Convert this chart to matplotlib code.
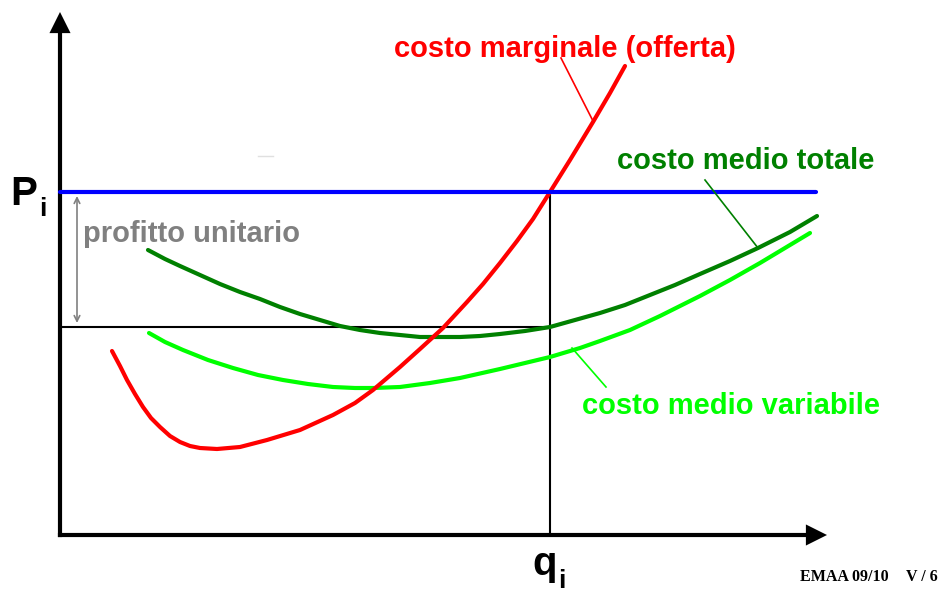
import matplotlib
matplotlib.use('Agg')
import matplotlib.pyplot as plt

# punti (coordinate in pixel, y verso il basso)
cm_x = [112, 120, 127, 135, 143, 151, 160, 170, 180, 190, 200, 217, 240, 267, 300, 333, 355, 373,
        400, 420, 443, 467, 483, 500, 517, 533, 550, 570, 593, 610, 625]
cm_y = [351, 366, 380, 394, 407, 418, 427, 436, 442, 446, 448, 449, 447, 440, 430, 415, 403, 390,
        367, 349, 328, 302, 284, 263, 241, 219, 192, 160, 122, 93, 66]

cmt_x = [148, 165, 180, 200, 220, 240, 260, 280, 300, 320, 340, 360, 380, 400, 420, 440, 460, 480,
         500, 525, 550, 575, 600, 625, 650, 675, 700, 730, 758, 790, 817]
cmt_y = [250, 259, 266, 275, 284, 292, 299, 307, 314, 320, 326, 330, 333, 335, 337, 337, 337, 336,
         334, 331, 327, 320, 313, 305, 295, 285, 274, 261, 248, 232, 216]

cmv_x = [149, 165, 183, 208, 233, 258, 283, 308, 333, 355, 373, 400, 430, 460, 500, 550, 580, 600,
         630, 660, 700, 730, 760, 785, 810]
cmv_y = [333, 342, 350, 360, 368, 375, 380, 384, 387, 388, 388, 387, 383, 378, 369, 357, 348, 341,
         330, 316, 296, 280, 263, 248, 233]

prezzo = 192       # P_i
quantita = 550     # q_i
costo_min = 327    # costo medio totale in q_i
origine = (60, 535)

ROSSO = '#ff0000'
BLU = '#0000ff'
VERDE_SCURO = '#008000'
VERDE = '#00ff00'
GRIGIO = '#808080'

plt.rcParams['font.family'] = ['Liberation Sans', 'DejaVu Sans']

fig = plt.figure(figsize=(9.42, 5.92), dpi=100)
ax = fig.add_axes([0, 0, 1, 1])
ax.set_xlim(0, 942)
ax.set_ylim(592, 0)
ax.axis('off')

# assi con frecce
freccia = dict(arrowstyle='-|>', lw=0, color='black', mutation_scale=38, shrinkA=0, shrinkB=0)
ax.plot([origine[0], origine[0]], [origine[1], 25], color='black', lw=3, solid_capstyle='projecting')
ax.plot([origine[0], 812], [origine[1], origine[1]], color='black', lw=3, solid_capstyle='projecting')
ax.annotate('', xy=(origine[0], 12), xytext=(origine[0], 45), arrowprops=freccia)
ax.annotate('', xy=(827, origine[1]), xytext=(795, origine[1]), arrowprops=freccia)

# linee di riferimento
ax.plot([origine[0], quantita], [costo_min, costo_min], color='black', lw=1.5)
ax.plot([quantita, quantita], [prezzo, origine[1]], color='black', lw=1.5)

# curve
ax.plot(cmv_x, cmv_y, color=VERDE, lw=3, solid_capstyle='round')
ax.plot(cmt_x, cmt_y, color=VERDE_SCURO, lw=3, solid_capstyle='round')
ax.plot(cm_x, cm_y, color=ROSSO, lw=3, solid_capstyle='round')
ax.plot([origine[0], 816], [prezzo, prezzo], color=BLU, lw=3, solid_capstyle='round')

# profitto unitario
ax.annotate('', xy=(77, prezzo + 4), xytext=(77, costo_min - 4),
            arrowprops=dict(arrowstyle='<->', lw=1.2, color=GRIGIO, mutation_scale=10,
                            shrinkA=0, shrinkB=0))
ax.text(83, 242, 'profitto unitario', color=GRIGIO, fontsize=21, fontweight='bold',
        ha='left', va='baseline')
ax.plot([258, 273], [156, 156], color='#e0e0e0', lw=1)

# etichette con linee di richiamo
ax.text(394, 57, 'costo marginale (offerta)', color=ROSSO, fontsize=21, fontweight='bold',
        ha='left', va='baseline')
ax.plot([561, 593], [58, 121], color=ROSSO, lw=1.2)

ax.text(617, 169, 'costo medio totale', color=VERDE_SCURO, fontsize=21, fontweight='bold',
        ha='left', va='baseline')
ax.plot([705, 758], [180, 248], color=VERDE_SCURO, lw=1.2)

ax.text(582, 414, 'costo medio variabile', color=VERDE, fontsize=21, fontweight='bold',
        ha='left', va='baseline')
ax.plot([572, 606], [348, 387], color=VERDE, lw=1.2)

# P_i e q_i
ax.text(10, 205, 'P', fontsize=29, fontweight='bold', ha='left', va='baseline')
ax.text(39, 216, 'i', fontsize=19, fontweight='bold', ha='left', va='baseline')
ax.text(532, 575, 'q', fontsize=29, fontweight='bold', ha='left', va='baseline')
ax.text(558, 588, 'i', fontsize=19, fontweight='bold', ha='left', va='baseline')

serif = ['Liberation Serif', 'DejaVu Serif']
ax.text(800, 581, 'EMAA 09/10', fontsize=11.5, fontweight='bold', family=serif,
        ha='left', va='baseline')
ax.text(906, 581, 'V / 6', fontsize=11.5, fontweight='bold', family=serif,
        ha='left', va='baseline')

fig.savefig('out.png', dpi=100)
